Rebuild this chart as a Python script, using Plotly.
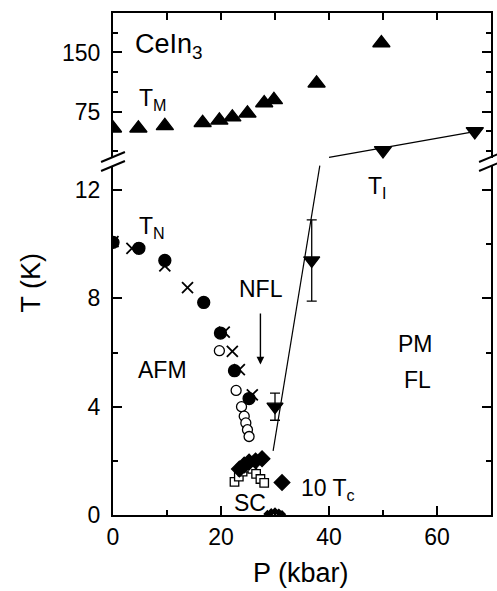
import plotly.graph_objects as go

# ---------------- data ----------------
# T_M (upper panel, filled up-triangles)
tm_p = [0, 4.7, 9.6, 16.6, 19.7, 22.1, 24.9, 28.0, 29.8, 37.7, 49.7]
tm_t = [54, 54, 57, 61, 64, 68, 73, 86, 90, 111, 162]

# T_I (upper panel, filled down-triangles) and fit line
ti_up_p = [50, 67]
ti_up_t = [26, 50]
ti_line_up_p = [40, 68]
ti_line_up_t = [17, 51]

# T_I (lower panel, down-triangles with error bars)
ti_p = [30.0, 36.8]
ti_t = [4.0, 9.4]
ti_err = [0.5, 1.5]
ti_line_p = [29.65, 38.3]
ti_line_t = [2.37, 12.9]

# T_N filled circles
tn_p = [0, 4.8, 9.6, 16.8, 19.9, 22.5, 25.2]
tn_t = [10.07, 9.85, 9.4, 7.85, 6.72, 5.33, 4.3]

# crosses
cx_p = [0, 3.5, 9.6, 13.8, 20.6, 22.1, 23.4, 25.8]
cx_t = [10.1, 9.85, 9.2, 8.4, 6.75, 6.04, 5.37, 4.44]

# open circles
oc_p = [19.7, 22.8, 23.8, 24.3, 24.6, 24.9, 25.2]
oc_t = [6.07, 4.6, 4.0, 3.65, 3.4, 3.15, 2.9]

# 10 Tc filled diamonds
tc_p = [23.4, 24.3, 25.2, 26.4, 27.6, 31.3]
tc_t = [1.7, 1.85, 1.96, 2.0, 2.08, 1.2]

# open squares
sq_p = [22.5, 23.3, 24.0, 24.8, 25.8, 26.5, 27.3, 28.0]
sq_t = [1.22, 1.42, 1.6, 1.75, 1.7, 1.52, 1.33, 1.19]

# real Tc near zero
tc0_p = [28.6, 29.3, 30.0, 30.7, 31.3]
tc0_t = [0.04, 0.1, 0.13, 0.09, 0.03]

FONT = "Liberation Sans, Arial, sans-serif"
BLK = "black"

fig = go.Figure()

def add(x, y, sym, size, ax="lower", filled=True, **kw):
    xa, ya = ("x", "y") if ax == "lower" else ("x2", "y2")
    m = dict(symbol=sym, size=size, color=BLK if filled else "white",
             line=dict(color=BLK, width=1.3))
    if sym == "x-thin":
        m = dict(symbol=sym, size=size, line=dict(color=BLK, width=1.8))
    fig.add_trace(go.Scatter(x=x, y=y, mode="markers", marker=m,
                             xaxis=xa, yaxis=ya, showlegend=False, **kw))

# upper panel
add(tm_p, tm_t, "triangle-up", 15, ax="upper")
fig.add_trace(go.Scatter(x=ti_line_up_p, y=ti_line_up_t, mode="lines",
                         line=dict(color=BLK, width=1.3), xaxis="x2", yaxis="y2",
                         showlegend=False))
add(ti_up_p, ti_up_t, "triangle-down", 15, ax="upper")

# lower panel
fig.add_trace(go.Scatter(x=ti_line_p, y=ti_line_t, mode="lines",
                         line=dict(color=BLK, width=1.2), xaxis="x", yaxis="y",
                         showlegend=False))
add(oc_p, oc_t, "circle", 10, filled=False)
add(sq_p, sq_t, "square", 8.5, filled=False)
add(tn_p, tn_t, "circle", 12)
add(cx_p, cx_t, "x-thin", 11)
add(tc_p, tc_t, "diamond", 12)
add(tc0_p, tc0_t, "diamond", 5)
add(ti_p, ti_t, "triangle-down", 14,
    error_y=dict(type="data", array=ti_err, color=BLK, thickness=1.3, width=5))

axis_common = dict(showline=True, linecolor=BLK, linewidth=2, showgrid=False,
                   zeroline=False, ticks="inside", tickcolor=BLK, tickwidth=1.5,
                   tickfont=dict(family=FONT, size=23, color=BLK))

fig.update_layout(
    width=497, height=591,
    margin=dict(l=113, r=4, t=13, b=76),
    paper_bgcolor="white", plot_bgcolor="white",
    font=dict(family=FONT, color=BLK),
    xaxis=dict(domain=[0, 1], range=[0, 70], anchor="y", tick0=0, dtick=20,
               ticklen=9, ticklabelstandoff=0,
               minor=dict(dtick=10, ticks="inside", ticklen=5, tickcolor=BLK),
               **axis_common),
    yaxis=dict(domain=[0, 0.7012], range=[0, 13], anchor="x", tick0=0, dtick=4,
               ticklen=9, mirror="ticks", ticklabelstandoff=6,
               minor=dict(dtick=2, ticks="inside", ticklen=5, tickcolor=BLK),
               **axis_common),
    xaxis2=dict(domain=[0, 1], range=[0, 70], anchor="y2", side="top",
                tick0=0, dtick=10, ticklen=7, showticklabels=False,
                **axis_common),
    yaxis2=dict(domain=[0.7012, 1], range=[10, 200], anchor="x2",
                tickvals=[75, 150], ticklen=9, mirror="ticks", ticklabelstandoff=6,
                minor=dict(tick0=0, dtick=25, ticks="inside", ticklen=5, tickcolor=BLK),
                **axis_common),
)

def ann(text, x, y, yref="y", xref="x", size=23, xanchor="center", **kw):
    fig.add_annotation(text=text, x=x, y=y, xref=xref, yref=yref, showarrow=False,
                       xanchor=xanchor, yanchor="middle",
                       font=dict(family=FONT, size=size, color=BLK), **kw)

ann("CeIn<sub>3</sub>", 3.7, 158, yref="y2", xref="x2", size=27, xanchor="left")
ann("T<sub>M</sub>", 4.5, 90, yref="y2", xref="x2", size=23, xanchor="left")
ann("T<sub>N</sub>", 4.5, 10.6, size=23, xanchor="left")
ann("T<sub>I</sub>", 46.8, 12.1, size=23, xanchor="left")
ann("NFL", 27.4, 8.33, size=23)
ann("AFM", 9.25, 5.37, size=23)
ann("PM", 56.1, 6.3, size=23)
ann("FL", 56.3, 5.0, size=23)
ann("10 T<sub>c</sub>", 34.4, 0.95, size=23, xanchor="left")
ann("SC", 25.4, 0.45, size=23)

# axis titles
fig.add_annotation(text="T (K)", x=-0.216, y=0.464, xref="paper", yref="paper",
                   showarrow=False, textangle=-90, xanchor="center", yanchor="middle",
                   font=dict(family=FONT, size=27, color=BLK))
fig.add_annotation(text="P (kbar)", x=0.497, y=-0.1155, xref="paper", yref="paper",
                   showarrow=False, xanchor="center", yanchor="middle",
                   font=dict(family=FONT, size=27, color=BLK))

# NFL arrow
fig.add_annotation(x=27.3, y=5.56, ax=27.3, ay=7.5, xref="x", yref="y",
                   axref="x", ayref="y", text="", showarrow=True,
                   arrowhead=2, arrowsize=1.1, arrowwidth=1.4, arrowcolor=BLK)

# axis break marks (decorations, in paper units)
W, H = 380.0, 502.0
def px(xp): return (xp - 113) / W
def py(yp): return (515 - yp) / H
for xc in (113, 493):
    fig.add_shape(type="rect", xref="paper", yref="paper",
                  x0=px(xc - 3), x1=px(xc + 3), y0=py(166), y1=py(158),
                  fillcolor="white", line=dict(width=0), layer="above")
    for dy in (0, -9):
        fig.add_shape(type="line", xref="paper", yref="paper",
                      x0=px(xc - 12), y0=py(171 + dy), x1=px(xc + 12), y1=py(161 + dy),
                      line=dict(color=BLK, width=2), layer="above")

fig.write_html("out.html")
